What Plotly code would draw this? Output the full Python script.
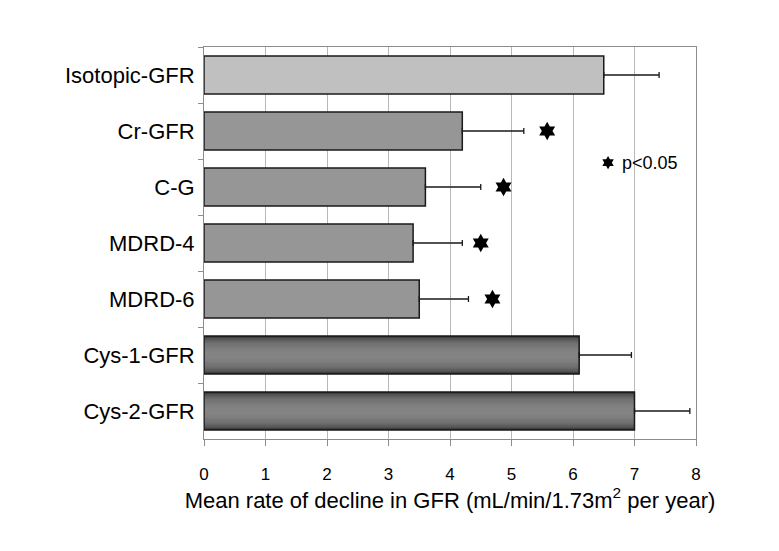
import plotly.graph_objects as go
import numpy as np

# ---- data ----
categories = ["Isotopic-GFR", "Cr-GFR", "C-G", "MDRD-4", "MDRD-6", "Cys-1-GFR", "Cys-2-GFR"]
mean_decline = [6.5, 4.2, 3.6, 3.4, 3.5, 6.1, 7.0]
error_plus = [0.9, 1.0, 0.9, 0.8, 0.8, 0.85, 0.9]
sig_categories = ["Cr-GFR", "C-G", "MDRD-4", "MDRD-6"]
sig_star_x = [5.58, 4.87, 4.50, 4.69]
x_ticks = [0, 1, 2, 3, 4, 5, 6, 7, 8]
gradient_categories = ["Cys-1-GFR", "Cys-2-GFR"]

# ---- styles ----
BAR_W = 0.68
fills = {
    "Isotopic-GFR": "#c0c0c0",
    "Cr-GFR": "#969696", "C-G": "#969696", "MDRD-4": "#969696", "MDRD-6": "#969696",
    "Cys-1-GFR": "rgba(0,0,0,0)", "Cys-2-GFR": "rgba(0,0,0,0)",
}
AXIS_C = "#8c8c8c"
GRID_C = "#b8b8b8"
FONT = "Liberation Sans, Arial, sans-serif"

fig = go.Figure()

# metallic gradient for Cys bars (stacked overlay layers of shrinking width)
g_vals = [mean_decline[categories.index(c)] for c in gradient_categories]
n_layers = 16
dark, light = 0x2a, 0x84
for i in range(n_layers):
    w = BAR_W * (1 - i / n_layers)
    r = w / BAR_W
    v = int(dark + (light - dark) * np.sqrt(max(0.0, 1 - r * r)))
    col = f"rgb({v},{v},{v})"
    fig.add_trace(go.Bar(
        x=g_vals, y=gradient_categories, orientation="h", width=w,
        marker=dict(color=col, line=dict(width=0)),
        hoverinfo="skip",
    ))

# main bars with outline and error bars
fig.add_trace(go.Bar(
    x=mean_decline, y=categories, orientation="h", width=BAR_W,
    marker=dict(color=[fills[c] for c in categories], line=dict(color="#1a1a1a", width=1.5)),
    error_x=dict(type="data", symmetric=False, array=error_plus,
                 arrayminus=[0] * len(categories), color="#1a1a1a",
                 thickness=1.3, width=3),
))

# significance stars
fig.add_trace(go.Scatter(
    x=sig_star_x, y=sig_categories, mode="markers",
    marker=dict(symbol="hexagram", size=14, color="black", line=dict(width=0)),
))

# legend: star + label
fig.add_trace(go.Scatter(
    x=[6.57], y=[0.705], yaxis="y2", mode="markers",
    marker=dict(symbol="hexagram", size=10, color="black", line=dict(width=0)),
))
fig.add_annotation(x=6.76, y=0.705, xref="x", yref="paper", text="p<0.05",
                   showarrow=False, xanchor="left", yanchor="middle",
                   font=dict(family=FONT, size=18, color="black"))

# page body has an 8px default margin -> compensate so the plot lands where intended
OFF = 8
fig.update_layout(
    width=779, height=551,
    margin=dict(l=204 - OFF, r=83 + OFF, t=47 - OFF, b=112 + OFF),
    paper_bgcolor="white", plot_bgcolor="white",
    barmode="overlay", showlegend=False,
    font=dict(family=FONT, color="black"),
    xaxis=dict(
        range=[0, 8], tickvals=x_ticks, ticktext=[str(t) for t in x_ticks],
        showgrid=True, gridcolor=GRID_C, gridwidth=1, zeroline=False,
        showline=True, linecolor=AXIS_C, linewidth=1, mirror=True,
        ticks="outside", ticklen=6, tickcolor=AXIS_C,
        tickfont=dict(family=FONT, size=17, color="black"),
        ticklabelstandoff=14,
        title=dict(text="Mean rate of decline in GFR (mL/min/1.73m<sup>2</sup> per year)",
                   font=dict(family=FONT, size=22, color="black"), standoff=4),
    ),
    yaxis=dict(
        type="category", categoryorder="array", categoryarray=categories,
        autorange="reversed", showgrid=False, zeroline=False,
        showline=True, linecolor=AXIS_C, linewidth=1, mirror=True,
        ticks="outside", tickson="boundaries", ticklen=5, tickcolor=AXIS_C,
        tickfont=dict(family=FONT, size=22, color="black"),
        ticklabelstandoff=4,
    ),
    yaxis2=dict(overlaying="y", range=[0, 1], visible=False),
)

fig.write_html("out.html")
